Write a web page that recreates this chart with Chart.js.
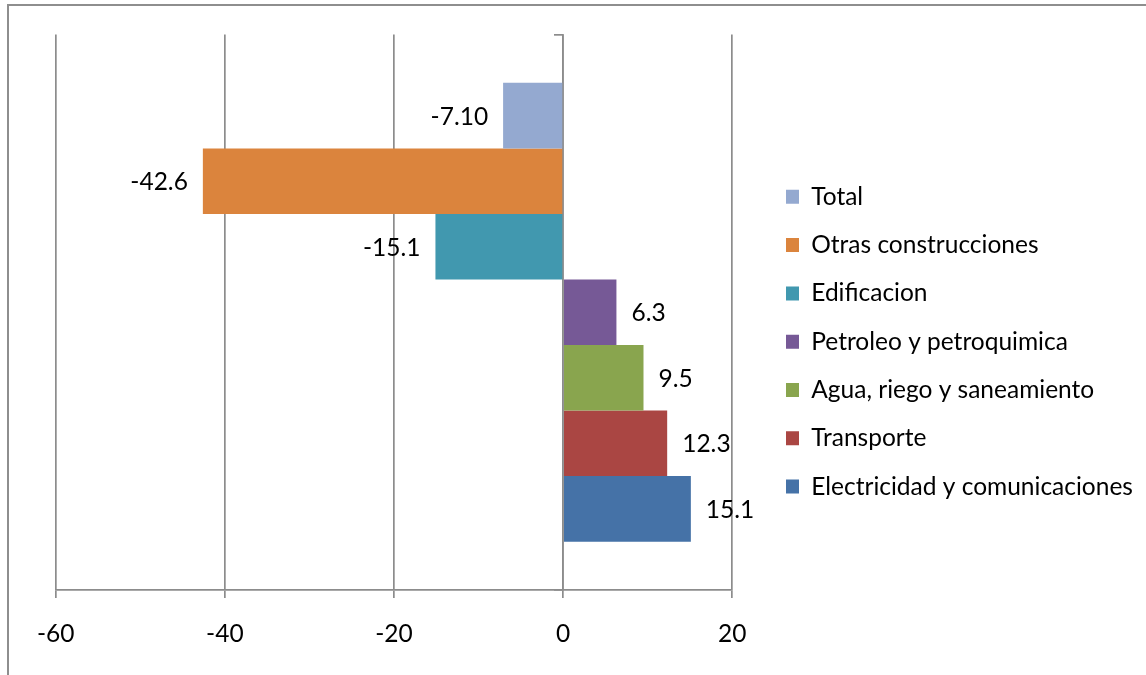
<!DOCTYPE html>
<html>
<head>
<meta charset="utf-8">
<script src="https://cdn.jsdelivr.net/npm/chart.js"></script>
<style>
  html, body { margin: 0; padding: 0; background: #fff; overflow: hidden; }
  #wrap { position: relative; width: 1146px; height: 675px; }
  #wrap canvas { position: absolute; left: 0; top: 0; }
  #frame {
    position: absolute; left: 7px; top: 4px; width: 1300px; height: 800px;
    border-left: 2px solid #8e8e8e; border-top: 2px solid #8e8e8e;
    pointer-events: none;
  }
</style>
</head>
<body>
<div id="wrap">
  <canvas id="chart" width="1146" height="675"></canvas>
  <div id="frame"></div>
</div>
<script>
// Series, listed top to bottom as drawn
const seriesNames = [
  'Total',
  'Otras construcciones',
  'Edificacion',
  'Petroleo y petroquimica',
  'Agua, riego y saneamiento',
  'Transporte',
  'Electricidad y comunicaciones'
];
const seriesValues = [-7.10, -42.6, -15.1, 6.3, 9.5, 12.3, 15.1];
const valueDecimals = [2, 1, 1, 1, 1, 1, 1];
const seriesColors = ['#94A9D0', '#DB843D', '#4198AF', '#765996', '#89A54E', '#AA4643', '#4572A7'];
const categories = [''];
const xTicks = [-60, -40, -20, 0, 20];

// Styling
const FONT = 'Lato';
const FS = 24.5;
const GRID = '#8c8c8c';
const LW = 1.7;

Chart.defaults.font.family = FONT;
Chart.defaults.font.size = FS;
Chart.defaults.color = '#000';

// Legend and plot geometry
const LEG_PAD = 23.8, BOX_W = 13, BOX_H = 14;
const PLOT_LEFT = 55.7, PLOT_TOP = 34.5, PLOT_RIGHT = 732.3, PLOT_BOTTOM = 590;
const SPACER = 29.9;
const TICK_LEN = 8, TICK_PAD = 21.5;
const AXIS_H = TICK_LEN + TICK_PAD + FS * 1.2;

const meas = document.createElement('canvas').getContext('2d');
meas.font = 'normal ' + FS + 'px ' + FONT;
const maxLabelW = Math.max(...seriesNames.map(n => meas.measureText(n).width));
const legendW = LEG_PAD + BOX_W + FS / 2 + maxLabelW + 10;
const padRight = 1146 - (PLOT_RIGHT + SPACER + legendW);
const padBottom = 675 - (PLOT_BOTTOM + AXIS_H);

// Value labels just outside the end of each bar
const valueLabels = {
  id: 'valueLabels',
  afterDatasetsDraw(chart) {
    const ctx = chart.ctx;
    ctx.save();
    ctx.font = 'normal ' + FS + 'px ' + FONT;
    ctx.fillStyle = '#000';
    ctx.textBaseline = 'middle';
    chart.data.datasets.forEach((ds, i) => {
      const meta = chart.getDatasetMeta(i);
      meta.data.forEach((bar, j) => {
        const v = ds.data[j];
        const neg = v < 0;
        ctx.textAlign = neg ? 'right' : 'left';
        ctx.fillText(v.toFixed(valueDecimals[i]), bar.x + (neg ? -15 : 15), bar.y + 1);
      });
    });
    ctx.restore();
  }
};

const datasets = seriesNames.map((name, i) => ({
  label: name,
  data: [seriesValues[i]],
  backgroundColor: seriesColors[i],
  borderWidth: 0,
  barPercentage: 1,
  categoryPercentage: 0.826
}));

new Chart(document.getElementById('chart'), {
  type: 'bar',
  data: { labels: categories, datasets },
  plugins: [valueLabels],
  options: {
    indexAxis: 'y',
    responsive: false,
    devicePixelRatio: 1,
    animation: false,
    events: [],
    layout: {
      padding: { left: PLOT_LEFT, top: PLOT_TOP, right: padRight, bottom: padBottom }
    },
    plugins: {
      legend: {
        position: 'right',
        maxWidth: 600,
        labels: {
          boxWidth: BOX_W,
          boxHeight: BOX_H,
          padding: LEG_PAD,
          color: '#000',
          font: { family: FONT, size: FS }
        }
      },
      tooltip: { enabled: false },
      title: { display: false }
    },
    scales: {
      x: {
        type: 'linear',
        min: xTicks[0],
        max: xTicks[xTicks.length - 1],
        afterBuildTicks(scale) {
          scale.ticks = xTicks.map(v => ({ value: v }));
        },
        afterFit(scale) { scale.height = AXIS_H; },
        ticks: {
          padding: TICK_PAD,
          color: '#000',
          font: { family: FONT, size: FS },
          callback: v => String(v)
        },
        grid: {
          color: GRID,
          lineWidth: LW,
          drawTicks: true,
          tickLength: TICK_LEN,
          tickColor: GRID
        },
        border: { display: true, color: GRID, width: LW }
      },
      y: {
        type: 'category',
        position: { x: 0 },
        ticks: { display: false },
        grid: {
          offset: true,
          drawOnChartArea: false,
          drawTicks: true,
          tickLength: TICK_LEN,
          color: GRID,
          lineWidth: LW
        },
        border: { display: true, color: GRID, width: LW }
      },
      ySpacer: {
        type: 'category',
        position: 'right',
        display: true,
        ticks: { display: false },
        grid: { display: false },
        border: { display: false },
        afterFit(scale) { scale.width = SPACER; }
      }
    }
  }
});
</script>
</body>
</html>
